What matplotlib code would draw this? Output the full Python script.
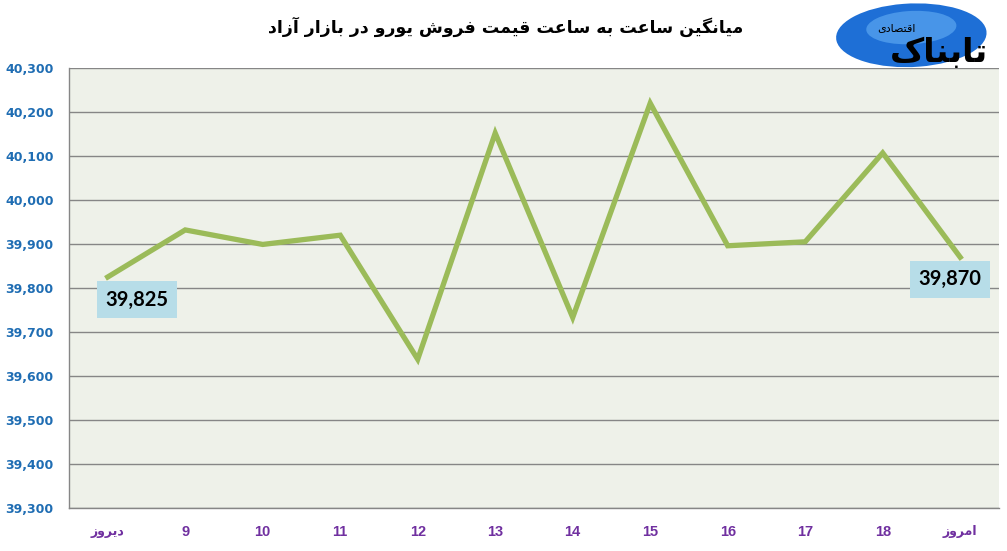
import matplotlib
matplotlib.use("Agg")
import matplotlib.pyplot as plt
from matplotlib.patches import Ellipse
from matplotlib.ticker import FuncFormatter

# data
categories = ["دیروز", "9", "10", "11", "12", "13", "14", "15", "16", "17", "18", "امروز"]
values = [39825, 39932, 39899, 39920, 39638, 40152, 39733, 40220, 39896, 39905, 40107, 39870]
title = "میانگین ساعت به ساعت قیمت فروش یورو در بازار آزاد"
logo_main = "تابناک"
logo_sub = "اقتصادی"

# minimal arabic/persian shaping (matplotlib has no complex text layout)
# letter: (isolated, final, initial, medial); None -> does not join forward
FORMS = {
    "ا": ("\uFE8D", "\uFE8E", None, None),
    "آ": ("\uFE81", "\uFE82", None, None),
    "ب": ("\uFE8F", "\uFE90", "\uFE91", "\uFE92"),
    "ت": ("\uFE95", "\uFE96", "\uFE97", "\uFE98"),
    "د": ("\uFEA9", "\uFEAA", None, None),
    "ر": ("\uFEAD", "\uFEAE", None, None),
    "ز": ("\uFEAF", "\uFEB0", None, None),
    "س": ("\uFEB1", "\uFEB2", "\uFEB3", "\uFEB4"),
    "ش": ("\uFEB5", "\uFEB6", "\uFEB7", "\uFEB8"),
    "ص": ("\uFEB9", "\uFEBA", "\uFEBB", "\uFEBC"),
    "ع": ("\uFEC9", "\uFECA", "\uFECB", "\uFECC"),
    "ف": ("\uFED1", "\uFED2", "\uFED3", "\uFED4"),
    "ق": ("\uFED5", "\uFED6", "\uFED7", "\uFED8"),
    "م": ("\uFEE1", "\uFEE2", "\uFEE3", "\uFEE4"),
    "ن": ("\uFEE5", "\uFEE6", "\uFEE7", "\uFEE8"),
    "ه": ("\uFEE9", "\uFEEA", "\uFEEB", "\uFEEC"),
    "و": ("\uFEED", "\uFEEE", None, None),
    "ی": ("\uFBFC", "\uFBFD", "\uFBFE", "\uFBFF"),
    "گ": ("\uFB92", "\uFB93", "\uFB94", "\uFB95"),
    "ک": ("\uFB8E", "\uFB8F", "\uFB90", "\uFB91"),
}


def shape(text):
    if not any(c in FORMS for c in text):
        return text
    out = []
    for i, c in enumerate(text):
        if c not in FORMS:
            out.append(c)
            continue
        prev = text[i - 1] if i > 0 else ""
        nxt = text[i + 1] if i + 1 < len(text) else ""
        join_prev = prev in FORMS and FORMS[prev][2] is not None
        join_next = FORMS[c][2] is not None and nxt in FORMS
        iso, fin, ini, med = FORMS[c]
        if join_prev and join_next:
            out.append(med)
        elif join_prev:
            out.append(fin)
        elif join_next:
            out.append(ini)
        else:
            out.append(iso)
    return "".join(out)[::-1]


fig = plt.figure(figsize=(10.07, 5.51), dpi=100)
ax = fig.add_axes([0.0685, 0.078, 0.9235, 0.7986])
ax.set_facecolor("#eef1e9")

x = list(range(len(categories)))
ax.plot(x, values, color="#9bbb59", lw=3.8, solid_joinstyle="miter", zorder=3)

ax.set_xlim(-0.5, len(categories) - 0.5)
ax.set_ylim(39300, 40300)
ax.set_yticks(range(39300, 40301, 100))
ax.yaxis.set_major_formatter(FuncFormatter(lambda v, p: f"{int(v):,}"))
ax.grid(axis="y", color="#868686", lw=1.0, zorder=1)
ax.set_axisbelow(True)

for s in ["top", "right"]:
    ax.spines[s].set_visible(False)
for s in ["left", "bottom"]:
    ax.spines[s].set_color("#868686")
    ax.spines[s].set_linewidth(1.0)

ax.tick_params(axis="both", length=0)
ax.tick_params(axis="y", pad=11)
ax.tick_params(axis="x", pad=12)
for t in ax.get_yticklabels():
    t.set_fontfamily("DejaVu Sans")
    t.set_fontweight("bold")
    t.set_fontsize(9)
    t.set_color("#1f6db3")

ax.set_xticks(x)
ax.set_xticklabels([shape(c) for c in categories], fontsize=10.5, fontweight="bold",
                   color="#7030a0", family=["Liberation Sans Narrow", "Liberation Sans", "DejaVu Sans"])
for t, c in zip(ax.get_xticklabels(), categories):
    if not c.isdigit():
        t.set_family("DejaVu Sans")
        t.set_fontsize(9)

# data labels on first and last points
for i, off in [(0, (21, -16.5)), (len(values) - 1, (-7.5, -16))]:
    ax.annotate(f"{values[i]:,}", xy=(x[i], values[i]), xytext=off, textcoords="offset points",
                ha="center", va="center", fontsize=14.5, fontweight="bold", family="Lato",
                color="black", zorder=5,
                bbox=dict(boxstyle="square,pad=0.42", fc="#b7dde8", ec="none"))

fig.text(0.502, 0.952, shape(title), ha="center", va="center", fontsize=12.5,
         fontweight="bold", family="DejaVu Sans", color="black")

# logo
logo = Ellipse((0.905, 0.936), 0.15, 0.115, angle=8, transform=fig.transFigure,
               fc="#1e6fd6", ec="none", zorder=1)
fig.patches.append(logo)
glow = Ellipse((0.905, 0.95), 0.09, 0.06, angle=8, transform=fig.transFigure,
               fc="#5aa6f0", ec="none", alpha=0.7, zorder=1)
fig.patches.append(glow)
fig.text(0.932, 0.905, shape(logo_main), ha="center", va="center", fontsize=24,
         fontweight="bold", family="DejaVu Sans", color="black", zorder=3)
fig.text(0.89, 0.95, shape(logo_sub), ha="center", va="center", fontsize=8,
         family="DejaVu Sans", color="black", zorder=3)

fig.savefig("out.png", dpi=100, facecolor="white")
